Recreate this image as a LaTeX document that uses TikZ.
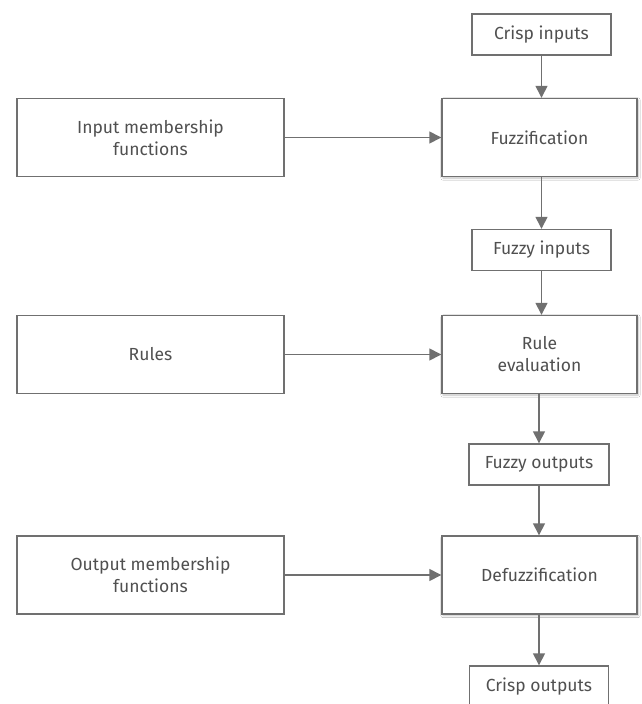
\documentclass[tikz,border=0pt]{standalone}
\usepackage{fontspec}
\setmainfont{Fira Sans}
\usetikzlibrary{arrows.meta,shadows.blur}
\definecolor{linegray}{HTML}{707070}
\definecolor{textgray}{HTML}{505050}
\tikzset{
  box/.style={draw=linegray, line width=1.4pt, fill=white, text=textgray,
    align=center, inner sep=2pt, font=\fontsize{17.5}{22}\selectfont},
  smallbox/.style={box, minimum width=139pt, minimum height=41pt},
  bigbox/.style={box, minimum width=195pt, minimum height=78pt,
    blur shadow={shadow blur steps=6, shadow xshift=1pt, shadow yshift=-1.5pt, shadow opacity=25}},
  leftbox/.style={box, minimum width=267pt, minimum height=78pt},
  arr/.style={draw=linegray, line width=1.4pt, -{Triangle[length=12pt,width=12pt]}}
}
\begin{document}
\begin{tikzpicture}[x=1pt,y=-1pt]
\clip (0,0) rectangle (641,704);
\fill[white] (0,0) rectangle (641,704);
\node[smallbox] (ci) at (541.5,34.5) {Crisp inputs};
\node[bigbox] (fz) at (539.5,137.5) {Fuzzification};
\node[leftbox] (imf) at (150.5,137.5) {Input membership\\functions};
\node[smallbox] (fi) at (541.5,250) {Fuzzy inputs};
\node[bigbox] (re) at (539.5,354.5) {Rule\\evaluation};
\node[leftbox] (ru) at (150.5,354.5) {Rules};
\node[smallbox, minimum width=140pt] (fo) at (539,464.5) {Fuzzy outputs};
\node[bigbox] (df) at (539.5,575) {Defuzzification};
\node[leftbox] (omf) at (150.5,575) {Output membership\\functions};
\node[smallbox] (co) at (539,686.5) {Crisp outputs};
\draw[arr] (ci.south) -- (ci.south |- fz.north);
\draw[arr] (fz.south -| fi.north) -- (fi.north);
\draw[arr] (fi.south) -- (fi.south |- re.north);
\draw[arr] (re.south -| fo.north) -- (fo.north);
\draw[arr] (fo.south) -- (fo.south |- df.north);
\draw[arr] (df.south -| co.north) -- (co.north);
\draw[arr] (imf.east) -- (fz.west);
\draw[arr] (ru.east) -- (re.west);
\draw[arr] (omf.east) -- (df.west);
\end{tikzpicture}
\end{document}
